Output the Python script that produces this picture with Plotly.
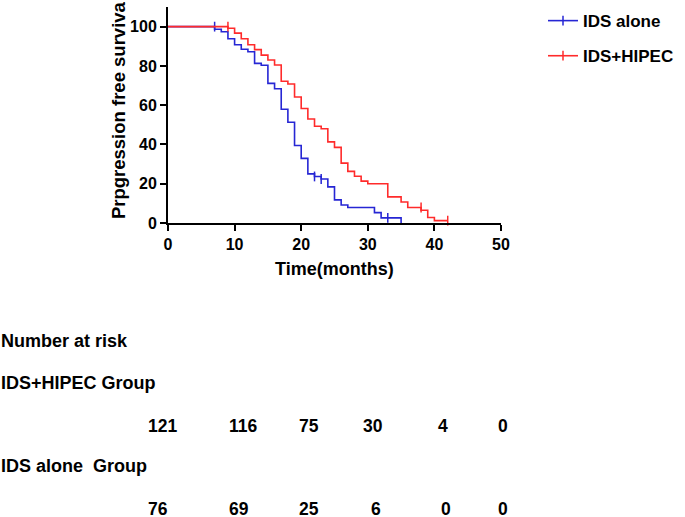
import plotly.graph_objects as go

# Kaplan-Meier step data
ids_alone_t = [0, 7, 8, 9, 10, 11, 12, 13, 14, 15, 16, 17, 18, 19, 20, 21, 22, 23, 24, 25, 26, 27, 31, 32, 35]
ids_alone_s = [100, 98.7, 97.4, 93.8, 90.8, 88.5, 87.2, 81.3, 80.3, 71.1, 68.4, 57.9, 51.3, 39.5,
               32.9, 25.0, 23.7, 22.4, 18.4, 11.8, 9.2, 7.9, 5.3, 2.6, 0]
ids_alone_cens_t = [7, 22, 23, 33]
ids_alone_cens_s = [100, 23.7, 22.4, 2.6]

hipec_t = [0, 9, 10, 11, 12, 13, 14, 15, 16, 17, 18, 19, 20, 21, 22, 23, 24, 25, 26, 27, 28, 29, 30,
           33, 35, 36, 38, 39, 40, 42]
hipec_s = [100, 99.2, 96.7, 93.8, 90.8, 88.3, 85.5, 83.0, 80.5, 72.2, 70.8, 64.2, 58.3, 53.0, 49.3,
           48.0, 41.3, 38.5, 30.5, 26.3, 23.8, 21.3, 20.0, 13.3, 10.7, 7.9, 6.5, 2.8, 1.2, 1.2]
hipec_cens_t = [9, 38, 42]
hipec_cens_s = [100, 7.9, 1.2]

# Number at risk table
risk_times = [0, 10, 20, 30, 40, 50]
risk_hipec = [121, 116, 75, 30, 4, 0]
risk_alone = [76, 69, 25, 6, 0, 0]
# left-aligned columns, pixel nudges from the tick position
shift_hipec = [-22, -8, -4.5, -7, 1.5, -5]
shift_alone = [-22, -8, -4.5, 1, 4.5, -5]

BLUE = "#2626D4"
RED = "#FF2B2B"
FONT = "Liberation Sans, Arial, sans-serif"

# plot area in pixels
L, R, T, B = 168, 184, 3, 294
W, H = 685, 517
PH = H - T - B


def py(p):
    # pixel row -> paper y
    return (H - B - p) / PH


def px(p):
    return (p - L) / (W - L - R)


fig = go.Figure()

for name, t, s, ct, cs, col in [
    ("IDS alone", ids_alone_t, ids_alone_s, ids_alone_cens_t, ids_alone_cens_s, BLUE),
    ("IDS+HIPEC", hipec_t, hipec_s, hipec_cens_t, hipec_cens_s, RED),
]:
    fig.add_trace(go.Scatter(x=t, y=s, mode="lines", line=dict(color=col, width=1.6, shape="hv"),
                             showlegend=False, cliponaxis=False))
    fig.add_trace(go.Scatter(x=ct, y=cs, mode="markers", showlegend=False, cliponaxis=False,
                             marker=dict(symbol="line-ns", size=7, line=dict(color=col, width=1.5))))
    fig.add_trace(go.Scatter(x=[None], y=[None], mode="lines+markers", name=name, legendgroup=name,
                             line=dict(color=col, width=1.6),
                             marker=dict(symbol="line-ns", size=7, color=col, line=dict(color=col, width=1.5))))

axis_common = dict(showline=True, linecolor="black", linewidth=2, ticks="outside", ticklen=6,
                   tickwidth=2, tickcolor="black", showgrid=False, zeroline=False,
                   tickfont=dict(family=FONT, size=16, color="black", weight="bold"))

fig.update_xaxes(range=[0, 50], tickvals=[0, 10, 20, 30, 40, 50], **axis_common)
fig.update_yaxes(range=[0, 110], tickvals=[0, 20, 40, 60, 80, 100], **axis_common)

bold = dict(family=FONT, size=18, color="black", weight="bold")
ann = [
    dict(text="Prpgression free surviva", x=px(118), y=py(108), textangle=-90, xanchor="center",
         font=dict(bold, size=18.5)),
    dict(text="Time(months)", x=0.5, y=py(270), xanchor="center", font=dict(bold, size=18)),
    dict(text="Number at risk", x=px(-1), y=py(343), xanchor="left", font=bold),
    dict(text="IDS+HIPEC Group", x=px(-1), y=py(386), xanchor="left", font=bold),
    dict(text="IDS alone  Group", x=px(-1), y=py(471), xanchor="left", font=bold),
]
for a in ann:
    fig.add_annotation(xref="paper", yref="paper", showarrow=False, yanchor="middle", **a)

for t, n1, n2, d1, d2 in zip(risk_times, risk_hipec, risk_alone, shift_hipec, shift_alone):
    fig.add_annotation(x=t, xref="x", y=py(430), yref="paper", text=str(n1), showarrow=False,
                       xanchor="left", yanchor="middle", xshift=d1, font=dict(bold, size=17.5))
    fig.add_annotation(x=t, xref="x", y=py(514), yref="paper", text=str(n2), showarrow=False,
                       xanchor="left", yanchor="middle", xshift=d2, font=dict(bold, size=17.5))

fig.update_layout(
    width=W, height=H, autosize=False,
    margin=dict(l=L, r=R, t=T, b=B),
    plot_bgcolor="white", paper_bgcolor="white",
    legend=dict(x=px(543), y=py(-1), xanchor="left", yanchor="top", tracegroupgap=10,
                font=dict(family=FONT, size=17, color="black", weight="bold"),
                bgcolor="rgba(0,0,0,0)"),
)

fig.write_html("out.html", config={"displayModeBar": False},
               post_script="document.body.style.margin = '0';")
